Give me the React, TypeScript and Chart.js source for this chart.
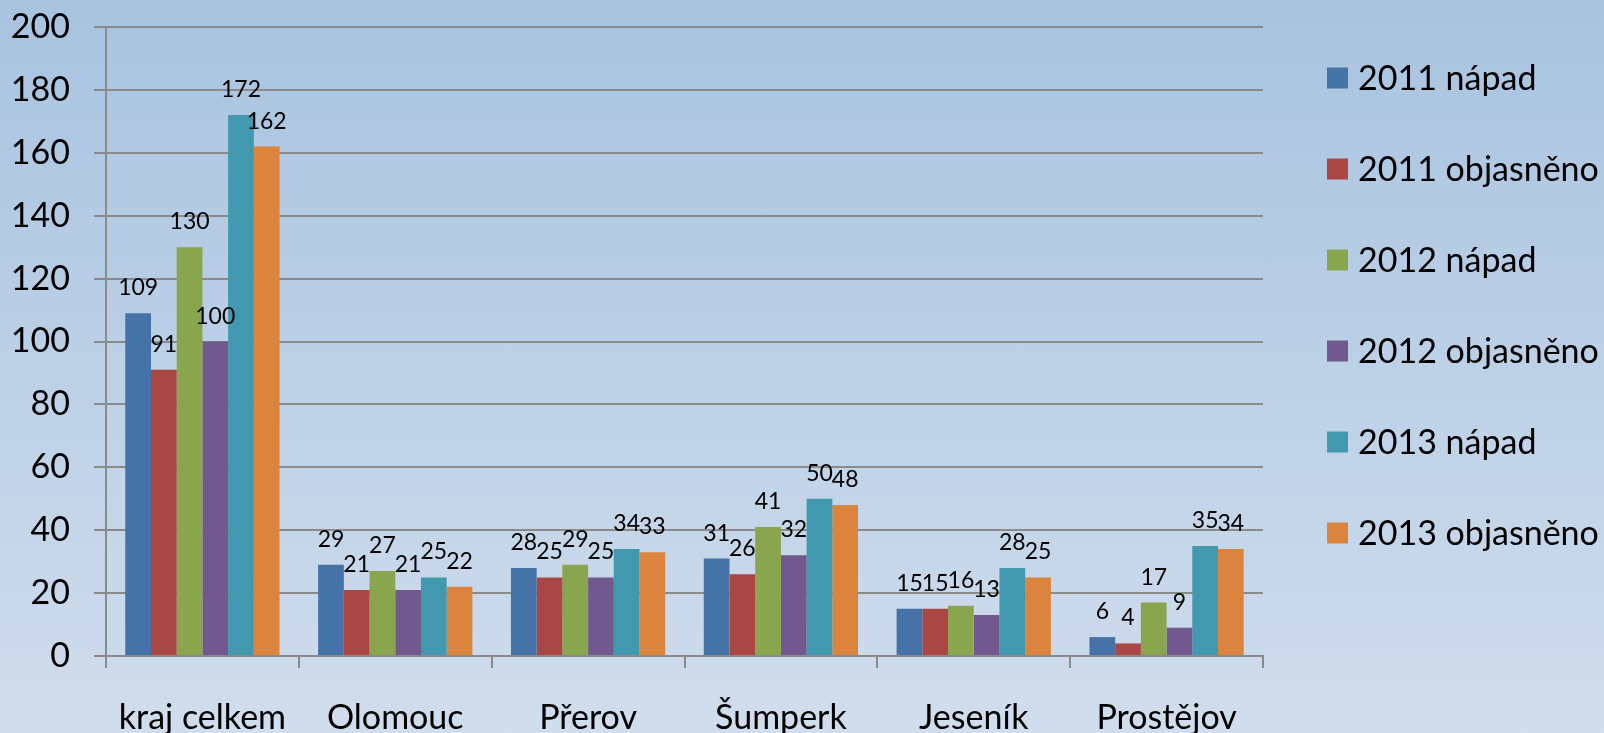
import React, { useEffect, useRef } from "react";
import { Chart, registerables } from "chart.js";

Chart.register(...registerables);

const categories = ["kraj celkem", "Olomouc", "Přerov", "Šumperk", "Jeseník", "Prostějov"];
const seriesNames = ["2011 nápad", "2011 objasněno", "2012 nápad", "2012 objasněno", "2013 nápad", "2013 objasněno"];
const napad2011 = [109, 29, 28, 31, 15, 6];
const objasneno2011 = [91, 21, 25, 26, 15, 4];
const napad2012 = [130, 27, 29, 41, 16, 17];
const objasneno2012 = [100, 21, 25, 32, 13, 9];
const napad2013 = [172, 25, 34, 50, 28, 35];
const objasneno2013 = [162, 22, 33, 48, 25, 34];
const seriesColors = ["#4572a7", "#aa4643", "#89a54e", "#71588f", "#4198af", "#db843d"];
const yMin = 0;
const yMax = 200;
const yStep = 20;

const FONT = "Lato, 'Open Sans', sans-serif";

const dataLabelPlugin = {
  id: "dataLabels",
  afterDatasetsDraw(chart: any) {
    const ctx = chart.ctx;
    ctx.save();
    ctx.font = `23px ${FONT}`;
    ctx.fillStyle = "#000";
    ctx.textAlign = "center";
    ctx.textBaseline = "alphabetic";
    chart.data.datasets.forEach((ds: any, i: number) => {
      const meta = chart.getDatasetMeta(i);
      meta.data.forEach((el: any, j: number) => {
        ctx.fillText(String(ds.data[j]), el.x, el.y - 18);
      });
    });
    ctx.restore();
  },
};

const legendPlugin = {
  id: "customLegend",
  afterDraw(chart: any) {
    const ctx = chart.ctx;
    ctx.save();
    ctx.font = `34px ${FONT}`;
    ctx.textAlign = "left";
    ctx.textBaseline = "middle";
    chart.data.datasets.forEach((ds: any, i: number) => {
      const cy = 78 + 91 * i;
      ctx.fillStyle = ds.backgroundColor;
      ctx.fillRect(1327, cy - 10.5, 21, 21);
      ctx.fillStyle = "#000";
      ctx.fillText(ds.label, 1358, cy + 1);
    });
    ctx.restore();
  },
};

export default function App() {
  const ref = useRef<HTMLCanvasElement | null>(null);
  useEffect(() => {
    if (!ref.current) return;
    const seriesData = [napad2011, objasneno2011, napad2012, objasneno2012, napad2013, objasneno2013];
    const chart = new Chart(ref.current, {
      type: "bar",
      data: {
        labels: categories,
        datasets: seriesNames.map((name, i) => ({
          label: name,
          data: seriesData[i],
          backgroundColor: seriesColors[i],
          borderWidth: 0,
          categoryPercentage: 0.8,
          barPercentage: 1.0,
        })),
      },
      options: {
        responsive: false,
        animation: false,
        layout: { autoPadding: false, padding: { left: 0, top: 27, right: 341, bottom: 0 } },
        plugins: { legend: { display: false }, tooltip: { enabled: false }, title: { display: false } },
        scales: {
          x: {
            grid: {
              offset: true,
              drawOnChartArea: false,
              drawTicks: true,
              tickLength: 12,
              color: "#8a8a8a",
              lineWidth: 2,
            },
            border: { display: true, color: "#8a8a8a", width: 2 },
            ticks: { color: "#000", font: { family: FONT, size: 34 }, padding: 30, maxRotation: 0, autoSkip: false },
            afterFit(scale: any) {
              scale.height = 77;
              scale.paddingLeft = 0;
              scale.paddingRight = 0;
            },
          },
          y: {
            min: yMin,
            max: yMax,
            grid: { color: "#8a8a8a", lineWidth: 2, tickLength: 12, drawTicks: true },
            border: { display: true, color: "#8a8a8a", width: 2 },
            ticks: { stepSize: yStep, color: "#000", font: { family: FONT, size: 34 }, padding: 24 },
            afterFit(scale: any) {
              scale.width = 106;
              scale.paddingTop = 0;
              scale.paddingBottom = 0;
            },
          },
        },
      },
      plugins: [dataLabelPlugin, legendPlugin],
    });
    return () => chart.destroy();
  }, []);
  return (
    <div
      style={{
        position: "absolute",
        left: 0,
        top: 0,
        width: 1604,
        height: 733,
        background: "linear-gradient(180deg, #a8c3df 0%, #bcd0e6 50%, #d0ddec 100%)",
      }}
    >
      <canvas ref={ref} width={1604} height={733} style={{ display: "block", width: 1604, height: 733 }} />
    </div>
  );
}
